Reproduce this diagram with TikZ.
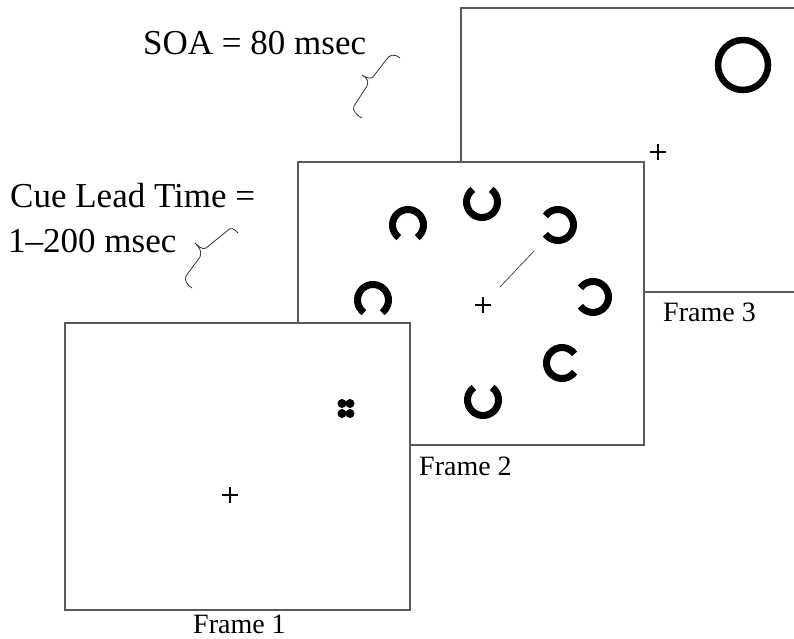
\documentclass[tikz,border=0pt]{standalone}
\usepackage{fontspec}
\setmainfont{Liberation Serif}
\newcommand\landoltC[2]{\draw[ring] (#1) ++({#2+36}:15.5) arc[start angle={#2+36}, delta angle=288, radius=15.5];}
\newcommand\fixcross[1]{\draw[fix] (#1) ++(-8,0) -- ++(16,0); \draw[fix] (#1) ++(0,-8) -- ++(0,16);}
\begin{document}
\begin{tikzpicture}[x=1pt,y=-1pt,
  frame/.style={draw=black!65,line width=1.3pt,fill=white,inner sep=0,outer sep=0,rectangle},
  ring/.style={line width=7pt},
  fix/.style={line width=2.8pt},
  side/.style={font=\fontsize{35}{40}\selectfont,anchor=base west,inner sep=0},
  lab/.style={font=\fontsize{28}{32}\selectfont,anchor=base west,inner sep=0},
  brace/.style={line width=0.8pt,draw=black!80}]
\useasboundingbox (0,0) rectangle (794,638);
% Frame 3
\node[frame,minimum width=339pt,minimum height=284pt] (f3) at (630.5,150) {};
\coordinate (f3fix) at (658,152);
\fixcross{f3fix}
\coordinate (target) at (743,65);
\draw[line width=6.5pt] (target) circle[radius=25];
\node[lab] (l3) at (663,321) {Frame 3};
% Frame 2
\node[frame,minimum width=346pt,minimum height=283pt] (f2) at (471,303.5) {};
\coordinate (c1) at (482,202);
\coordinate (c2) at (408,225);
\coordinate (c3) at (558,225);
\coordinate (c4) at (373,300);
\coordinate (c5) at (593,297);
\coordinate (c6) at (562,363);
\coordinate (c7) at (483,400);
\landoltC{c1}{270}
\landoltC{c2}{90}
\landoltC{c3}{180}
\landoltC{c4}{90}
\landoltC{c5}{180}
\landoltC{c6}{0}
\landoltC{c7}{270}
\coordinate (f2fix) at (483,305);
\fixcross{f2fix}
\coordinate (cueA) at (500,287);
\coordinate (cueB) at (534,251);
\draw[line width=0.8pt,black!70] (cueA) -- (cueB);
\node[lab] (l2) at (419,475) {Frame 2};
% Frame 1
\node[frame,minimum width=345pt,minimum height=287pt] (f1) at (237.5,466.5) {};
\coordinate (f1fix) at (230,495);
\fixcross{f1fix}
\coordinate (pc) at (346,408.5);
\foreach \dx in {-4,4} \foreach \dy in {-5,5} \fill ([shift={(\dx,\dy)}]pc) circle[radius=4.5];
\node[lab] (l1) at (193,633) {Frame 1};
% side texts
\node[side] (soa) at (143,54) {SOA = 80 msec};
\node[side] (clt1) at (10,207) {Cue Lead Time =};
\node[side] (clt2) at (8,252) {1--200 msec};
% braces
\draw[brace] (400,58) .. controls (394,53) and (389,55) .. (386,60) -- (373,77) .. controls (371,79) and (366,78) .. (362,75) .. controls (367,78) and (369,81) .. (367,86) -- (354,106) .. controls (352,110) and (356,115) .. (362,118);
\draw[brace] (238,233) .. controls (234,228) and (230,227) .. (227,231) -- (206,248) .. controls (203,250) and (199,247) .. (195,243) .. controls (200,248) and (202,252) .. (200,257) -- (186,276) .. controls (184,280) and (187,285) .. (192,288);
\end{tikzpicture}
\end{document}
